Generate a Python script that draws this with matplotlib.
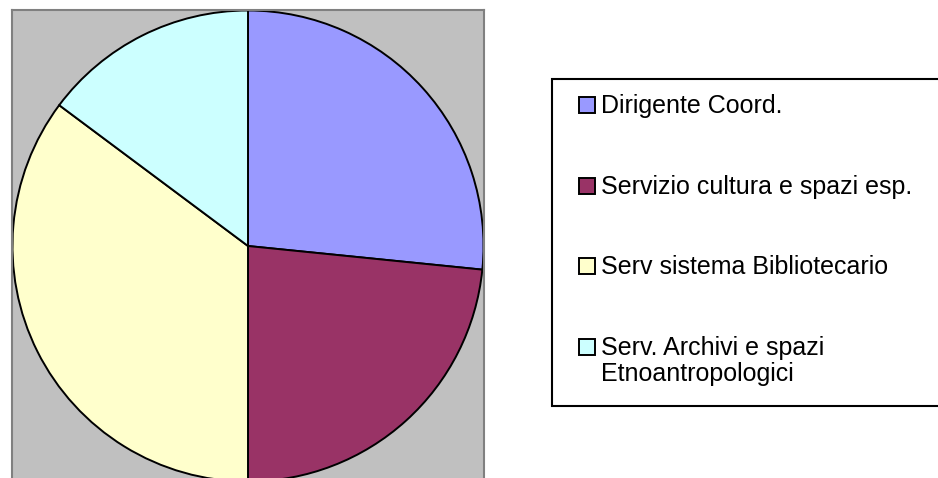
import matplotlib
matplotlib.use("Agg")
import matplotlib.pyplot as plt
from matplotlib.patches import Rectangle

plt.rcParams['font.family'] = ['Liberation Sans', 'DejaVu Sans']

categories = ["Dirigente Coord.", "Servizio cultura e spazi esp.",
              "Serv sistema Bibliotecario", "Serv. Archivi e spazi\nEtnoantropologici"]
values = [26.6, 23.4, 35.2, 14.8]
colors = ["#9999FF", "#993366", "#FFFFCC", "#CCFFFF"]

W, H = 938, 478
fig = plt.figure(figsize=(W / 100, H / 100), dpi=100)

def fx(px):
    return px / W

def fy(py):
    return 1 - py / H

# plot area (gray square), extends slightly below the figure
left, top, size = 12, 10, 472
ax = fig.add_axes([fx(left), fy(top + size), size / W, size / H])

wedges, _ = ax.pie(values, colors=colors, startangle=90, counterclock=False,
                   radius=0.998, frame=True,
                   wedgeprops=dict(edgecolor="black", linewidth=1.4))
ax.set_xlim(-1, 1)
ax.set_ylim(-1, 1)
ax.set_aspect("equal")
ax.set_facecolor("#C0C0C0")
ax.patch.set_visible(True)
for s in ax.spines.values():
    s.set_visible(True)
    s.set_color("#808080")
    s.set_linewidth(1.5)
ax.set_xticks([])
ax.set_yticks([])

# legend box
lx0, ly0, lx1, ly1 = 552, 79, 945, 406
fig.patches.append(Rectangle((fx(lx0), fy(ly1)), fx(lx1) - fx(lx0), fy(ly0) - fy(ly1),
                             transform=fig.transFigure, facecolor="white",
                             edgecolor="black", linewidth=1.5, zorder=1))

centers = [104.7, 185.5, 266.0, 346.5]
msize = 16
for cat, col, cy in zip(categories, colors, centers):
    fig.patches.append(Rectangle((fx(579), fy(cy + msize / 2)), msize / W, msize / H,
                                 transform=fig.transFigure, facecolor=col,
                                 edgecolor="black", linewidth=1.4, zorder=2))
    for i, line in enumerate(cat.split("\n")):
        fig.text(fx(601), fy(cy + 1 + i * 26), line, fontsize=18, va="center",
                 ha="left", color="black", zorder=3)

fig.savefig("out.png", dpi=100, facecolor="white")
